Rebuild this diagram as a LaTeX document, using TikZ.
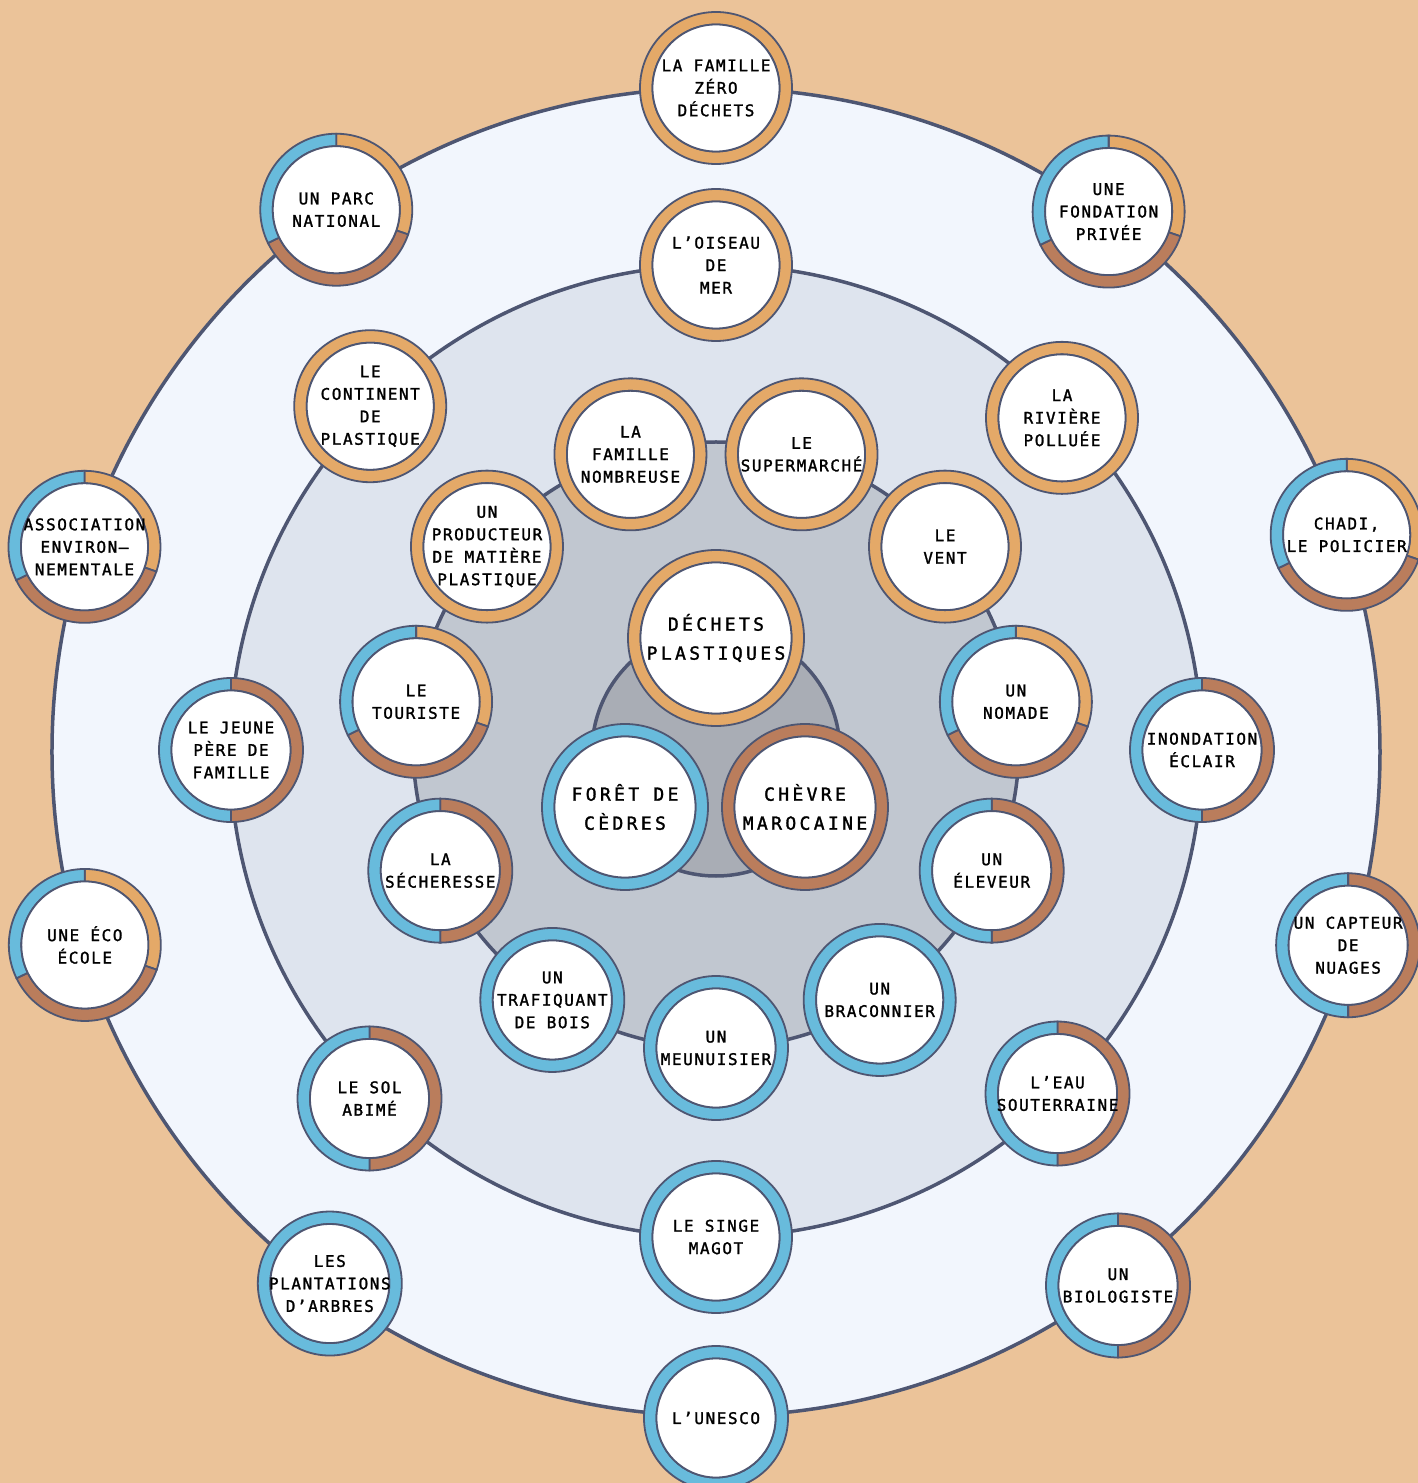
\documentclass[tikz,border=0pt]{standalone}
\usepackage{fontspec}
\setmainfont{DejaVu Sans Mono}[LetterSpace=9.8, FakeBold=1.6]
\newfontfamily\corefont{DejaVu Sans Mono}[LetterSpace=18.7, FakeBold=1.6]

\definecolor{sand}{HTML}{EBC399}
\definecolor{zoneA}{HTML}{F2F6FD}
\definecolor{zoneB}{HTML}{DEE4EE}
\definecolor{zoneC}{HTML}{C1C7D0}
\definecolor{zoneD}{HTML}{A9ADB5}
\definecolor{edge}{HTML}{4E5672}
\definecolor{ochre}{HTML}{E4A968}
\definecolor{sky}{HTML}{68BBDC}
\definecolor{clay}{HTML}{BA7D5C}

\pgfdeclarelayer{discs}
\pgfdeclarelayer{rings}
\pgfsetlayers{discs,rings,main}

\tikzset{
    actor/.style={circle, inner sep=0pt, align=center, text=black,
        font=\fontsize{16}{22.5}\selectfont},
    core/.style={actor, font=\corefont\fontsize{18}{29}\selectfont},
    zone/.style={draw=edge, line width=3.5pt},
    rim/.style={draw=edge, line width=1.8pt},
}

\newcommand{\ringseg}[5]{%
    \pgfmathsetmacro{\rin}{#2-12.5}
    \filldraw[rim, fill=#5, shift={(#1.center)}]
        (#3:#2) arc[start angle=#3, end angle=#4, radius=#2]
        -- (#4:\rin) arc[start angle=#4, end angle=#3, radius=\rin] -- cycle;
}
\newcommand{\ringhole}[2]{%
    \pgfmathsetmacro{\rin}{#2-12.5}
    \filldraw[rim, fill=white, shift={(#1.center)}] (0,0) circle[radius=\rin];
}
\newcommand{\ringfull}[3]{%
    \pgfmathsetmacro{\rin}{#2-12.5}
    \filldraw[rim, fill=#3, even odd rule, shift={(#1.center)}]
        (0,0) circle[radius=#2] (0,0) circle[radius=\rin];
    \ringhole{#1}{#2}
}
\newcommand{\ringhalf}[2]{%
    \ringseg{#1}{#2}{90}{-90}{clay}
    \ringseg{#1}{#2}{270}{90}{sky}
    \ringhole{#1}{#2}
}
\newcommand{\ringthird}[2]{%
    \ringseg{#1}{#2}{90}{-19}{ochre}
    \ringseg{#1}{#2}{-19}{-154}{clay}
    \ringseg{#1}{#2}{206}{90}{sky}
    \ringhole{#1}{#2}
}

\begin{document}
\begin{tikzpicture}[x=1pt, y=1pt]

        \useasboundingbox (-716,-731) rectangle (702,752);

        \begin{pgfonlayer}{discs}
            \fill[sand] (-716,-731) rectangle (702,752);
            \filldraw[zone, fill=zoneA] (0,0) circle[radius=664];
            \filldraw[zone, fill=zoneB] (0,1) circle[radius=486];
            \filldraw[zone, fill=zoneC] (0,7) circle[radius=303];
            \filldraw[zone, fill=zoneD] (0,0) circle[radius=124];
        \end{pgfonlayer}

        \node[actor] (zerowaste) at (90:664) {LA FAMILLE\\ZÉRO\\DÉCHETS};
        \node[actor] (foundation) at (54:668) {UNE\\FONDATION\\PRIVÉE};
        \node[actor] (policeman) at (19:667) {CHADI,\\LE POLICIER};
        \node[actor] (cloudsensor) at (-17:661) {UN CAPTEUR\\DE\\NUAGES};
        \node[actor] (biologist) at (-53:668) {UN\\BIOLOGISTE};
        \node[actor] (unesco) at (-90:666) {L’UNESCO};
        \node[actor] (plantations) at (-126:657) {LES\\PLANTATIONS\\D’ARBRES};
        \node[actor] (ecoschool) at (-163:660) {UNE ÉCO\\ÉCOLE};
        \node[actor] (association) at (162:664) {ASSOCIATION\\ENVIRON–\\NEMENTALE};
        \node[actor] (park) at (125:662) {UN PARC\\NATIONAL};

        \node[actor] (seabird) at (90:487) {L’OISEAU\\DE\\MER};
        \node[actor] (river) at (44:481) {LA\\RIVIÈRE\\POLLUÉE};
        \node[actor] (flood) at (486,2) {INONDATION\\ÉCLAIR};
        \node[actor] (groundwater) at (-45:483) {L’EAU\\SOUTERRAINE};
        \node[actor] (macaque) at (-90:485) {LE SINGE\\MAGOT};
        \node[actor] (soil) at (-135:490) {LE SOL\\ABIMÉ};
        \node[actor] (youngfather) at (-485,2) {LE JEUNE\\PÈRE DE\\FAMILLE};
        \node[actor] (plasticisland) at (135:489) {LE\\CONTINENT\\DE\\PLASTIQUE};

        \begin{scope}[shift={(0,7)}]
            \node[actor] (carpenter) at (-90:303) {UN\\MEUNUISIER};
            \node[actor] (poacher) at (-57.3:303) {UN\\BRACONNIER};
            \node[actor] (breeder) at (-24.5:303) {UN\\ÉLEVEUR};
            \node[actor] (nomad) at (8.2:303) {UN\\NOMADE};
            \node[actor] (wind) at (40.9:303) {LE\\VENT};
            \node[actor] (supermarket) at (73.6:303) {LE\\SUPERMARCHÉ};
            \node[actor] (bigfamily) at (106.4:303) {LA\\FAMILLE\\NOMBREUSE};
            \node[actor] (producer) at (139.1:303) {UN\\PRODUCTEUR\\DE MATIÈRE\\PLASTIQUE};
            \node[actor] (tourist) at (171.8:303) {LE\\TOURISTE};
            \node[actor] (drought) at (204.5:303) {LA\\SÉCHERESSE};
            \node[actor] (trafficker) at (237.3:303) {UN\\TRAFIQUANT\\DE BOIS};
        \end{scope}

        \node[core] (plastic) at (0,114) {DÉCHETS\\PLASTIQUES};
        \node[core] (cedars) at (-91,-55) {FORÊT DE\\CÈDRES};
        \node[core] (goat) at (89,-55) {CHÈVRE\\MAROCAINE};

        \begin{pgfonlayer}{rings}
            \ringfull{zerowaste}{76}{ochre}
            \ringthird{foundation}{76}
            \ringthird{policeman}{76}
            \ringhalf{cloudsensor}{72}
            \ringhalf{biologist}{72}
            \ringfull{unesco}{72}{sky}
            \ringfull{plantations}{72}{sky}
            \ringthird{ecoschool}{76}
            \ringthird{association}{76}
            \ringthird{park}{76}

            \ringfull{seabird}{76}{ochre}
            \ringfull{river}{76}{ochre}
            \ringhalf{flood}{72}
            \ringhalf{groundwater}{72}
            \ringfull{macaque}{76}{sky}
            \ringhalf{soil}{72}
            \ringhalf{youngfather}{72}
            \ringfull{plasticisland}{76}{ochre}

            \ringfull{carpenter}{72}{sky}
            \ringfull{poacher}{76}{sky}
            \ringhalf{breeder}{72}
            \ringthird{nomad}{76}
            \ringfull{wind}{76}{ochre}
            \ringfull{supermarket}{76}{ochre}
            \ringfull{bigfamily}{76}{ochre}
            \ringfull{producer}{76}{ochre}
            \ringthird{tourist}{76}
            \ringhalf{drought}{72}
            \ringfull{trafficker}{72}{sky}

            \ringfull{plastic}{88}{ochre}
            \ringfull{cedars}{83}{sky}
            \ringfull{goat}{83}{clay}
        \end{pgfonlayer}

\end{tikzpicture}
\end{document}
